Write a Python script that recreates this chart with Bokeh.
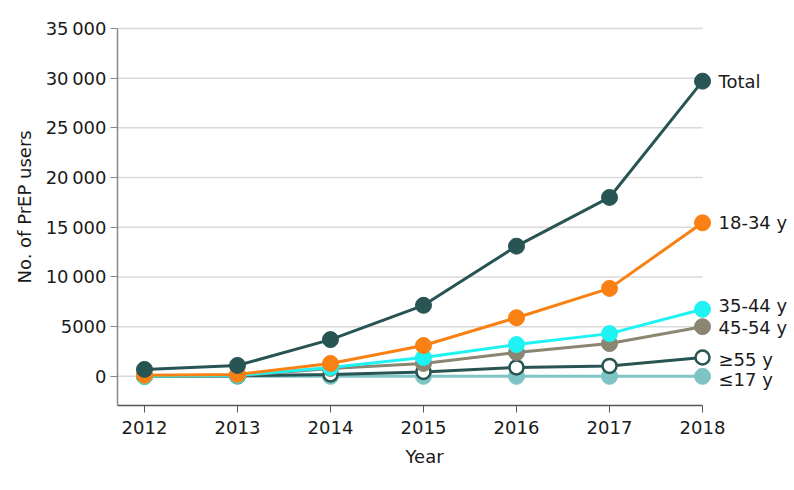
from bokeh.plotting import figure
from bokeh.models import ColumnDataSource, FixedTicker, Range1d, Title
from bokeh.core.properties import value
from bokeh.embed import file_html
from bokeh.resources import INLINE

years = [2012, 2013, 2014, 2015, 2016, 2017, 2018]
total = [700, 1100, 3700, 7150, 13100, 18000, 29700]
age_18_34 = [100, 200, 1300, 3100, 5900, 8850, 15450]
age_35_44 = [0, 100, 900, 1900, 3200, 4300, 6750]
age_45_54 = [0, 50, 800, 1300, 2400, 3300, 5000]
age_55 = [0, 50, 200, 450, 900, 1050, 1900]
age_17 = [0, 0, 0, 0, 0, 0, 0]
series_labels = ["Total", "18-34 y", "35-44 y", "45-54 y", "\u226555 y", "\u226417 y"]
y_ticks = [0, 5000, 10000, 15000, 20000, 25000, 30000, 35000]
y_tick_labels = ["0", "5000", "10\u2009000", "15\u2009000", "20\u2009000", "25\u2009000", "30\u2009000", "35\u2009000"]
x_title = "Year"
y_title = "No. of PrEP users"

FONT = "DejaVu Sans"
FS = "18px"
TXT = "#1a1a1a"
X0, X1 = 2011.71, 2018.946
Y0, Y1 = -2931, 35600

p = figure(width=790, height=482, output_backend="svg", toolbar_location=None,
           x_range=Range1d(X0, X1), y_range=Range1d(Y0, Y1),
           min_border_left=117, min_border_right=0, min_border_top=22, min_border_bottom=77)
p.outline_line_color = None
p.xgrid.visible = False
p.ygrid.visible = False

# grid lines stopping at 2018
p.segment(x0=[X0] * len(y_ticks), x1=[2018] * len(y_ticks), y0=y_ticks, y1=y_ticks,
          line_color="#d9d9d9", line_width=1.5)

xa = p.xaxis[0]
xa.ticker = FixedTicker(ticks=years)
xa.bounds = (X0, 2018)
xa.axis_line_color = "#555555"
xa.axis_line_width = 1.5
xa.major_tick_line_color = "#555555"
xa.major_tick_in = 0
xa.major_tick_out = 7
xa.minor_tick_line_color = None
xa.major_label_text_font = FONT
xa.major_label_text_font_size = FS
xa.major_label_text_color = TXT
xa.major_label_standoff = 8

ya = p.yaxis[0]
ya.ticker = FixedTicker(ticks=y_ticks)
ya.major_label_overrides = {t: l for t, l in zip(y_ticks, y_tick_labels)}
ya.bounds = (Y0, 35000)
ya.axis_line_color = "#888888"
ya.axis_line_width = 1.5
ya.major_tick_line_color = "#888888"
ya.major_tick_in = 0
ya.major_tick_out = 7
ya.minor_tick_line_color = None
ya.major_label_text_font = FONT
ya.major_label_text_font_size = FS
ya.major_label_text_color = TXT
ya.major_label_standoff = 4

p.add_layout(Title(text=x_title, align="left", offset=288, standoff=15,
                   text_font=FONT, text_font_size=FS, text_font_style="normal",
                   text_color=TXT), "below")
p.add_layout(Title(text=y_title, align="left", offset=122, standoff=16,
                   text_font=FONT, text_font_size=FS, text_font_style="normal",
                   text_color=TXT), "left")

series = [
    (age_17, "#7fc4c4", "#7fc4c4"),
    (age_55, "#285454", "white"),
    (age_45_54, "#8a8672", "#8a8672"),
    (age_35_44, "#1ff2f2", "#1ff2f2"),
    (age_18_34, "#f98012", "#f98012"),
    (total, "#285454", "#285454"),
]
for vals, lc, fc in series:
    p.line(years, vals, line_color=lc, line_width=3)
    p.scatter(years, vals, size=16 if fc != "white" else 14, fill_color=fc, line_color=lc,
              line_width=2.5 if fc == "white" else 1)

last_vals = [total[-1], age_18_34[-1], age_35_44[-1], age_45_54[-1], age_55[-1], age_17[-1]]
lab_src = ColumnDataSource(dict(x=[years[-1]] * 6, y=last_vals, t=series_labels,
                                dy=[0, 0, -4, 1, 2, 3]))
p.text(x="x", y="y", text="t", source=lab_src, x_offset=16, y_offset="dy",
       text_font=value(FONT), text_font_size=FS, text_color=TXT,
       text_baseline="middle", text_align="left")

open("out.html", "w").write(file_html(p, INLINE))
